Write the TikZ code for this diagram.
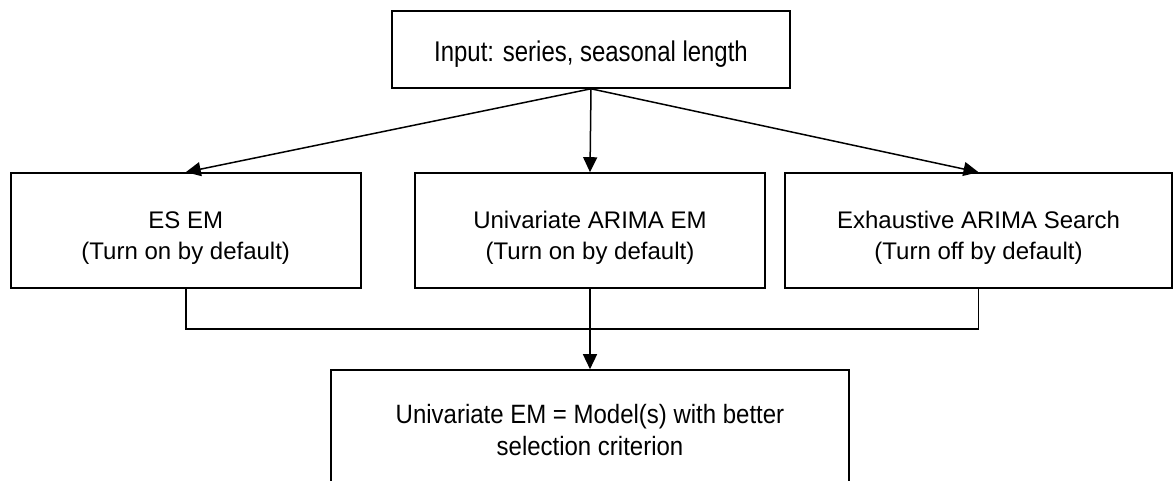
\documentclass[tikz,border=0pt]{standalone}
\usepackage{fontspec}
\usepackage{graphicx}
\setmainfont{Liberation Sans}
\usetikzlibrary{arrows.meta}
\newcommand{\sqtop}[1]{\scalebox{0.84}[1]{#1}}
\newcommand{\sqbot}[1]{\scalebox{0.905}[1]{#1}}
\begin{document}
\begin{tikzpicture}[x=1pt,y=-1pt,
  box/.style={draw,line width=1.6pt,inner sep=0pt,align=center},
  midbox/.style={box,minimum height=115pt,font=\fontsize{24}{32}\selectfont,text height=64pt,text depth=5pt},
  conn/.style={line width=1.5pt},
  arr/.style={conn,-{Triangle[length=15pt,width=14pt]}}]
\useasboundingbox (0,0) rectangle (1173,481);
\clip (0,0) rectangle (1173,481);
\fill[white] (0,0) rectangle (1173,481);
\node[box,minimum width=398pt,minimum height=77pt,font=\fontsize{28.5}{34}\selectfont,text height=30.4pt,text depth=6pt] (in) at (591,49.5) {\sqtop{Input: series, seasonal length}};
\node[midbox,minimum width=350pt] (es) at (185.75,230.5) {ES EM\\(Turn on by default)};
\node[midbox,minimum width=350pt] (ar) at (590,230.5) {Univariate ARIMA EM\\(Turn on by default)};
\node[midbox,minimum width=387pt] (ex) at (978.5,230.5) {Exhaustive ARIMA Search\\(Turn off by default)};
\node[box,minimum width=518pt,minimum height=120pt,font=\fontsize{26.5}{32}\selectfont,text height=50pt,text depth=0pt] (bo) at (590,430) {\sqbot{Univariate EM = Model(s) with better}\\\sqbot{selection criterion}};
\coordinate (join) at (590,329);
\draw[arr] (in.south) -- (es.north);
\draw[arr] (in.south) -- (ar.north);
\draw[arr] (in.south) -- (ex.north);
\draw[conn] (es.south) |- (join) -| (ex.south);
\draw[arr] (ar.south) -- (bo.north);
\end{tikzpicture}
\end{document}
